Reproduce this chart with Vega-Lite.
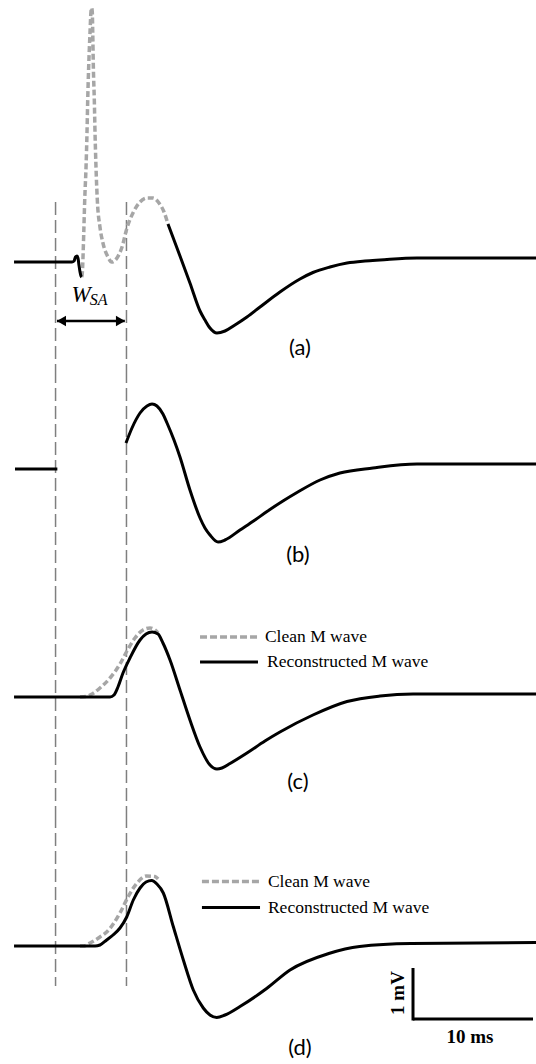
{
  "$schema": "https://vega.github.io/schema/vega-lite/v6.json",
  "padding": 0,
  "spacing": 0,
  "bounds": "flush",
  "background": "white",
  "config": {"view": {"stroke": null}},
  "vconcat": [
    {
      "width": 536,
      "height": 370,
      "data": {"values": [
        {"t": 1.17, "v": 0, "s": "pre"}, {"t": 6.0, "v": 0, "s": "pre"}, {"t": 6.17, "v": 0.02, "s": "pre"}, {"t": 6.29, "v": 0.1, "s": "pre"}, {"t": 6.42, "v": 0.12, "s": "pre"}, {"t": 6.5, "v": 0.08, "s": "pre"}, {"t": 6.58, "v": -0.06, "s": "pre"}, {"t": 6.67, "v": -0.2, "s": "pre"}, {"t": 6.75, "v": -0.28, "s": "pre"}, {"t": 6.81, "v": -0.3, "s": "pre"},
        {"t": 6.81, "v": -0.3, "s": "clean"}, {"t": 6.86, "v": -0.22, "s": "clean"}, {"t": 6.98, "v": 0.58, "s": "clean"}, {"t": 7.06, "v": 1.24, "s": "clean"}, {"t": 7.17, "v": 1.9, "s": "clean"}, {"t": 7.25, "v": 2.58, "s": "clean"}, {"t": 7.31, "v": 3.24, "s": "clean"}, {"t": 7.39, "v": 3.9, "s": "clean"}, {"t": 7.5, "v": 4.58, "s": "clean"}, {"t": 7.58, "v": 5.0, "s": "clean"}, {"t": 7.64, "v": 5.08, "s": "clean"}, {"t": 7.69, "v": 5.0, "s": "clean"}, {"t": 7.73, "v": 4.58, "s": "clean"}, {"t": 7.78, "v": 3.9, "s": "clean"}, {"t": 7.86, "v": 3.24, "s": "clean"}, {"t": 7.92, "v": 2.58, "s": "clean"}, {"t": 8.0, "v": 1.9, "s": "clean"}, {"t": 8.11, "v": 1.24, "s": "clean"}, {"t": 8.33, "v": 0.7, "s": "clean"}, {"t": 8.58, "v": 0.38, "s": "clean"}, {"t": 9.0, "v": 0.1, "s": "clean"}, {"t": 9.31, "v": 0, "s": "clean"}, {"t": 9.75, "v": 0.08, "s": "clean"}, {"t": 10.17, "v": 0.3, "s": "clean"}, {"t": 10.58, "v": 0.68, "s": "clean"}, {"t": 11.08, "v": 0.98, "s": "clean"}, {"t": 11.67, "v": 1.2, "s": "clean"}, {"t": 12.25, "v": 1.28, "s": "clean"}, {"t": 12.75, "v": 1.28, "s": "clean"}, {"t": 13.25, "v": 1.18, "s": "clean"}, {"t": 13.67, "v": 1.0, "s": "clean"}, {"t": 14.0, "v": 0.76, "s": "clean"},
        {"t": 14.0, "v": 0.76, "s": "main"}, {"t": 14.5, "v": 0.44, "s": "main"}, {"t": 15.0, "v": 0.12, "s": "main"}, {"t": 15.83, "v": -0.42, "s": "main"}, {"t": 16.67, "v": -0.98, "s": "main"}, {"t": 17.08, "v": -1.16, "s": "main"}, {"t": 17.5, "v": -1.32, "s": "main"}, {"t": 18.08, "v": -1.42, "s": "main"}, {"t": 18.75, "v": -1.38, "s": "main"}, {"t": 19.58, "v": -1.26, "s": "main"}, {"t": 20.58, "v": -1.1, "s": "main"}, {"t": 21.67, "v": -0.9, "s": "main"}, {"t": 23.33, "v": -0.6, "s": "main"}, {"t": 25.0, "v": -0.34, "s": "main"}, {"t": 26.08, "v": -0.21, "s": "main"}, {"t": 27.5, "v": -0.1, "s": "main"}, {"t": 28.92, "v": -0.02, "s": "main"}, {"t": 30.42, "v": 0.02, "s": "main"}, {"t": 31.67, "v": 0.04, "s": "main"}, {"t": 34.75, "v": 0.08, "s": "main"}, {"t": 44.67, "v": 0.08, "s": "main"}
      ]},
      "layer": [
        {
          "data": {"values": [{"t": 4.63, "v": 1.2, "v2": -2.16}, {"t": 10.54, "v": 1.2, "v2": -2.16}]},
          "mark": {"type": "rule", "color": "#7f7f7f", "strokeWidth": 1.5, "strokeDash": [13, 5]},
          "encoding": {
            "x": {"field": "t", "type": "quantitative", "scale": {"domain": [0, 44.67], "nice": false, "zero": false}, "axis": null},
            "y": {"field": "v", "type": "quantitative", "scale": {"domain": [-2.16, 5.24], "nice": false, "zero": false}, "axis": null},
            "y2": {"field": "v2"}
          }
        },
        {
          "transform": [{"filter": "datum.s == 'clean'"}],
          "mark": {"type": "line", "color": "#a6a6a6", "strokeWidth": 3.5, "strokeDash": [6, 3], "interpolate": "monotone"},
          "encoding": {
            "x": {"field": "t", "type": "quantitative", "axis": null},
            "y": {"field": "v", "type": "quantitative", "axis": null}
          }
        },
        {
          "transform": [{"filter": "datum.s != 'clean'"}],
          "mark": {"type": "line", "color": "black", "strokeWidth": 3, "strokeJoin": "round", "interpolate": "monotone"},
          "encoding": {
            "x": {"field": "t", "type": "quantitative", "axis": null},
            "y": {"field": "v", "type": "quantitative", "axis": null},
            "detail": {"field": "s"}
          }
        },
        {
          "data": {"values": [{"t": 4.75, "t2": 10.4, "v": -1.18}]},
          "mark": {"type": "rule", "color": "black", "strokeWidth": 2.5},
          "encoding": {
            "x": {"field": "t", "type": "quantitative", "axis": null},
            "x2": {"field": "t2"},
            "y": {"field": "v", "type": "quantitative", "axis": null}
          }
        },
        {
          "data": {"values": [{"t": 5.12, "v": -1.18, "shape": "triangle-left"}, {"t": 10.04, "v": -1.18, "shape": "triangle-right"}]},
          "mark": {"type": "point", "filled": true, "size": 110, "color": "black", "opacity": 1},
          "encoding": {
            "x": {"field": "t", "type": "quantitative", "axis": null},
            "y": {"field": "v", "type": "quantitative", "axis": null},
            "shape": {"field": "shape", "type": "nominal", "scale": null}
          }
        },
        {
          "data": {"values": [{"t": 6.75, "v": -0.65, "label": "W"}]},
          "mark": {"type": "text", "font": "Liberation Serif", "fontStyle": "italic", "fontSize": 23, "align": "center", "baseline": "middle", "color": "black"},
          "encoding": {
            "x": {"field": "t", "type": "quantitative", "axis": null},
            "y": {"field": "v", "type": "quantitative", "axis": null},
            "text": {"field": "label"}
          }
        },
        {
          "data": {"values": [{"t": 8.23, "v": -0.76, "label": "SA"}]},
          "mark": {"type": "text", "font": "Liberation Serif", "fontStyle": "italic", "fontSize": 16, "align": "center", "baseline": "middle", "color": "black"},
          "encoding": {
            "x": {"field": "t", "type": "quantitative", "axis": null},
            "y": {"field": "v", "type": "quantitative", "axis": null},
            "text": {"field": "label"}
          }
        },
        {
          "data": {"values": [{"t": 25.0, "v": -1.72, "label": "(a)"}]},
          "mark": {"type": "text", "font": "Lato", "fontSize": 22, "align": "center", "baseline": "middle", "color": "black"},
          "encoding": {
            "x": {"field": "t", "type": "quantitative", "axis": null},
            "y": {"field": "v", "type": "quantitative", "axis": null},
            "text": {"field": "label"}
          }
        }
      ]
    },
    {
      "width": 536,
      "height": 220,
      "data": {"values": [
        {"t": 1.25, "v": 0, "s": "pre"}, {"t": 4.78, "v": 0, "s": "pre"},
        {"t": 10.5, "v": 0.52, "s": "main"}, {"t": 11.0, "v": 0.82, "s": "main"}, {"t": 11.67, "v": 1.12, "s": "main"}, {"t": 12.25, "v": 1.26, "s": "main"}, {"t": 12.67, "v": 1.3, "s": "main"}, {"t": 13.08, "v": 1.26, "s": "main"}, {"t": 13.58, "v": 1.1, "s": "main"}, {"t": 13.92, "v": 0.92, "s": "main"}, {"t": 14.5, "v": 0.58, "s": "main"}, {"t": 15.0, "v": 0.24, "s": "main"}, {"t": 15.83, "v": -0.42, "s": "main"}, {"t": 16.67, "v": -0.98, "s": "main"}, {"t": 17.08, "v": -1.18, "s": "main"}, {"t": 17.5, "v": -1.32, "s": "main"}, {"t": 18.17, "v": -1.46, "s": "main"}, {"t": 18.75, "v": -1.42, "s": "main"}, {"t": 20.0, "v": -1.22, "s": "main"}, {"t": 21.25, "v": -1.02, "s": "main"}, {"t": 22.25, "v": -0.85, "s": "main"}, {"t": 23.58, "v": -0.64, "s": "main"}, {"t": 24.75, "v": -0.47, "s": "main"}, {"t": 26.67, "v": -0.22, "s": "main"}, {"t": 28.33, "v": -0.08, "s": "main"}, {"t": 31.08, "v": 0.02, "s": "main"}, {"t": 34.75, "v": 0.1, "s": "main"}, {"t": 44.67, "v": 0.1, "s": "main"}
      ]},
      "layer": [
        {
          "data": {"values": [{"t": 4.63}, {"t": 10.54}]},
          "mark": {"type": "rule", "color": "#7f7f7f", "strokeWidth": 1.5, "strokeDash": [13, 5]},
          "encoding": {
            "x": {"field": "t", "type": "quantitative", "scale": {"domain": [0, 44.67], "nice": false, "zero": false}, "axis": null}
          }
        },
        {
          "mark": {"type": "line", "color": "black", "strokeWidth": 3, "strokeJoin": "round", "interpolate": "monotone"},
          "encoding": {
            "x": {"field": "t", "type": "quantitative", "axis": null},
            "y": {"field": "v", "type": "quantitative", "scale": {"domain": [-2.42, 1.98], "nice": false, "zero": false}, "axis": null},
            "detail": {"field": "s"}
          }
        },
        {
          "data": {"values": [{"t": 24.83, "v": -1.72, "label": "(b)"}]},
          "mark": {"type": "text", "font": "Lato", "fontSize": 22, "align": "center", "baseline": "middle", "color": "black"},
          "encoding": {
            "x": {"field": "t", "type": "quantitative", "axis": null},
            "y": {"field": "v", "type": "quantitative", "axis": null},
            "text": {"field": "label"}
          }
        }
      ]
    },
    {
      "width": 536,
      "height": 225,
      "data": {"values": [
        {"t": 6.67, "v": 0, "s": "clean"}, {"t": 7.33, "v": 0.02, "s": "clean"}, {"t": 7.67, "v": 0.06, "s": "clean"}, {"t": 8.33, "v": 0.18, "s": "clean"}, {"t": 9.17, "v": 0.38, "s": "clean"}, {"t": 10.0, "v": 0.66, "s": "clean"}, {"t": 10.58, "v": 0.92, "s": "clean"}, {"t": 11.25, "v": 1.18, "s": "clean"}, {"t": 11.92, "v": 1.34, "s": "clean"}, {"t": 12.5, "v": 1.38, "s": "clean"}, {"t": 12.92, "v": 1.34, "s": "clean"}, {"t": 13.17, "v": 1.28, "s": "clean"},
        {"t": 1.17, "v": 0, "s": "rec"}, {"t": 9.17, "v": 0, "s": "rec"}, {"t": 9.5, "v": 0.04, "s": "rec"}, {"t": 9.83, "v": 0.2, "s": "rec"}, {"t": 10.25, "v": 0.48, "s": "rec"}, {"t": 10.83, "v": 0.78, "s": "rec"}, {"t": 11.67, "v": 1.14, "s": "rec"}, {"t": 12.17, "v": 1.26, "s": "rec"}, {"t": 12.67, "v": 1.3, "s": "rec"}, {"t": 13.17, "v": 1.26, "s": "rec"}, {"t": 13.58, "v": 1.08, "s": "rec"}, {"t": 14.17, "v": 0.74, "s": "rec"}, {"t": 15.0, "v": 0.14, "s": "rec"}, {"t": 15.83, "v": -0.46, "s": "rec"}, {"t": 16.67, "v": -1.0, "s": "rec"}, {"t": 17.5, "v": -1.36, "s": "rec"}, {"t": 18.08, "v": -1.44, "s": "rec"}, {"t": 18.5, "v": -1.42, "s": "rec"}, {"t": 19.17, "v": -1.33, "s": "rec"}, {"t": 20.58, "v": -1.12, "s": "rec"}, {"t": 22.08, "v": -0.88, "s": "rec"}, {"t": 23.33, "v": -0.7, "s": "rec"}, {"t": 26.08, "v": -0.36, "s": "rec"}, {"t": 28.92, "v": -0.09, "s": "rec"}, {"t": 31.67, "v": 0.02, "s": "rec"}, {"t": 34.42, "v": 0.06, "s": "rec"}, {"t": 44.67, "v": 0.06, "s": "rec"}
      ]},
      "layer": [
        {
          "data": {"values": [{"t": 4.63}, {"t": 10.54}]},
          "mark": {"type": "rule", "color": "#7f7f7f", "strokeWidth": 1.5, "strokeDash": [13, 5]},
          "encoding": {
            "x": {"field": "t", "type": "quantitative", "scale": {"domain": [0, 44.67], "nice": false, "zero": false}, "axis": null}
          }
        },
        {
          "transform": [{"filter": "datum.s == 'clean'"}],
          "mark": {"type": "line", "color": "#a6a6a6", "strokeWidth": 3.5, "strokeDash": [6, 3], "interpolate": "monotone"},
          "encoding": {
            "x": {"field": "t", "type": "quantitative", "axis": null},
            "y": {"field": "v", "type": "quantitative", "scale": {"domain": [-2.36, 2.14], "nice": false, "zero": false}, "axis": null}
          }
        },
        {
          "transform": [{"filter": "datum.s == 'rec'"}],
          "mark": {"type": "line", "color": "black", "strokeWidth": 3, "strokeJoin": "round", "interpolate": "monotone"},
          "encoding": {
            "x": {"field": "t", "type": "quantitative", "axis": null},
            "y": {"field": "v", "type": "quantitative", "axis": null}
          }
        },
        {
          "data": {"values": [{"t": 16.67, "t2": 21.5, "v": 1.2}]},
          "mark": {"type": "rule", "color": "#a6a6a6", "strokeWidth": 3.5, "strokeDash": [7, 3]},
          "encoding": {
            "x": {"field": "t", "type": "quantitative", "axis": null},
            "x2": {"field": "t2"},
            "y": {"field": "v", "type": "quantitative", "axis": null}
          }
        },
        {
          "data": {"values": [{"t": 16.67, "t2": 21.5, "v": 0.7}]},
          "mark": {"type": "rule", "color": "black", "strokeWidth": 3},
          "encoding": {
            "x": {"field": "t", "type": "quantitative", "axis": null},
            "x2": {"field": "t2"},
            "y": {"field": "v", "type": "quantitative", "axis": null}
          }
        },
        {
          "data": {"values": [{"t": 22.08, "v": 1.2, "label": "Clean M wave"}, {"t": 22.25, "v": 0.7, "label": "Reconstructed M wave"}]},
          "mark": {"type": "text", "font": "Liberation Serif", "fontSize": 17.5, "align": "left", "baseline": "middle", "color": "black"},
          "encoding": {
            "x": {"field": "t", "type": "quantitative", "axis": null},
            "y": {"field": "v", "type": "quantitative", "axis": null},
            "text": {"field": "label"}
          }
        },
        {
          "data": {"values": [{"t": 24.83, "v": -1.7, "label": "(c)"}]},
          "mark": {"type": "text", "font": "Lato", "fontSize": 22, "align": "center", "baseline": "middle", "color": "black"},
          "encoding": {
            "x": {"field": "t", "type": "quantitative", "axis": null},
            "y": {"field": "v", "type": "quantitative", "axis": null},
            "text": {"field": "label"}
          }
        }
      ]
    },
    {
      "width": 536,
      "height": 249,
      "data": {"values": [
        {"t": 6.67, "v": 0, "s": "clean"}, {"t": 6.94, "v": 0, "s": "clean"}, {"t": 7.5, "v": 0.06, "s": "clean"}, {"t": 8.33, "v": 0.18, "s": "clean"}, {"t": 8.89, "v": 0.28, "s": "clean"}, {"t": 10.0, "v": 0.66, "s": "clean"}, {"t": 10.69, "v": 0.99, "s": "clean"}, {"t": 11.39, "v": 1.25, "s": "clean"}, {"t": 12.22, "v": 1.4, "s": "clean"}, {"t": 12.92, "v": 1.39, "s": "clean"}, {"t": 13.17, "v": 1.34, "s": "clean"},
        {"t": 1.17, "v": 0, "s": "rec"}, {"t": 7.92, "v": 0, "s": "rec"}, {"t": 8.33, "v": 0.02, "s": "rec"}, {"t": 8.89, "v": 0.12, "s": "rec"}, {"t": 9.42, "v": 0.22, "s": "rec"}, {"t": 10.0, "v": 0.36, "s": "rec"}, {"t": 10.56, "v": 0.58, "s": "rec"}, {"t": 11.11, "v": 0.92, "s": "rec"}, {"t": 11.67, "v": 1.16, "s": "rec"}, {"t": 12.17, "v": 1.28, "s": "rec"}, {"t": 12.64, "v": 1.31, "s": "rec"}, {"t": 13.08, "v": 1.24, "s": "rec"}, {"t": 13.61, "v": 1.06, "s": "rec"}, {"t": 14.44, "v": 0.39, "s": "rec"}, {"t": 15.28, "v": -0.28, "s": "rec"}, {"t": 16.11, "v": -0.88, "s": "rec"}, {"t": 16.94, "v": -1.24, "s": "rec"}, {"t": 17.5, "v": -1.38, "s": "rec"}, {"t": 18.06, "v": -1.43, "s": "rec"}, {"t": 18.75, "v": -1.38, "s": "rec"}, {"t": 20.0, "v": -1.21, "s": "rec"}, {"t": 22.22, "v": -0.85, "s": "rec"}, {"t": 24.17, "v": -0.48, "s": "rec"}, {"t": 27.4, "v": -0.15, "s": "rec"}, {"t": 29.97, "v": -0.01, "s": "rec"}, {"t": 34.25, "v": 0.05, "s": "rec"}, {"t": 44.67, "v": 0.07, "s": "rec"}
      ]},
      "layer": [
        {
          "data": {"values": [{"t": 4.63, "v": 2.62, "v2": -0.8}, {"t": 10.54, "v": 2.62, "v2": -0.8}]},
          "mark": {"type": "rule", "color": "#7f7f7f", "strokeWidth": 1.5, "strokeDash": [13, 5]},
          "encoding": {
            "x": {"field": "t", "type": "quantitative", "scale": {"domain": [0, 44.67], "nice": false, "zero": false}, "axis": null},
            "y": {"field": "v", "type": "quantitative", "scale": {"domain": [-2.36, 2.62], "nice": false, "zero": false}, "axis": null},
            "y2": {"field": "v2"}
          }
        },
        {
          "transform": [{"filter": "datum.s == 'clean'"}],
          "mark": {"type": "line", "color": "#a6a6a6", "strokeWidth": 3.5, "strokeDash": [6, 3], "interpolate": "monotone"},
          "encoding": {
            "x": {"field": "t", "type": "quantitative", "axis": null},
            "y": {"field": "v", "type": "quantitative", "axis": null}
          }
        },
        {
          "transform": [{"filter": "datum.s == 'rec'"}],
          "mark": {"type": "line", "color": "black", "strokeWidth": 3, "strokeJoin": "round", "interpolate": "monotone"},
          "encoding": {
            "x": {"field": "t", "type": "quantitative", "axis": null},
            "y": {"field": "v", "type": "quantitative", "axis": null}
          }
        },
        {
          "data": {"values": [{"t": 16.83, "t2": 21.67, "v": 1.29}]},
          "mark": {"type": "rule", "color": "#a6a6a6", "strokeWidth": 3.5, "strokeDash": [7, 3]},
          "encoding": {
            "x": {"field": "t", "type": "quantitative", "axis": null},
            "x2": {"field": "t2"},
            "y": {"field": "v", "type": "quantitative", "axis": null}
          }
        },
        {
          "data": {"values": [{"t": 16.83, "t2": 21.67, "v": 0.77}, {"t": 34.42, "t2": 44.42, "v": -1.46}]},
          "mark": {"type": "rule", "color": "black", "strokeWidth": 3},
          "encoding": {
            "x": {"field": "t", "type": "quantitative", "axis": null},
            "x2": {"field": "t2"},
            "y": {"field": "v", "type": "quantitative", "axis": null}
          }
        },
        {
          "data": {"values": [{"t": 34.42, "v": -0.44, "v2": -1.49}]},
          "mark": {"type": "rule", "color": "black", "strokeWidth": 3},
          "encoding": {
            "x": {"field": "t", "type": "quantitative", "axis": null},
            "y": {"field": "v", "type": "quantitative", "axis": null},
            "y2": {"field": "v2"}
          }
        },
        {
          "data": {"values": [{"t": 22.33, "v": 1.29, "label": "Clean M wave"}, {"t": 22.33, "v": 0.77, "label": "Reconstructed M wave"}]},
          "mark": {"type": "text", "font": "Liberation Serif", "fontSize": 17.5, "align": "left", "baseline": "middle", "color": "black"},
          "encoding": {
            "x": {"field": "t", "type": "quantitative", "axis": null},
            "y": {"field": "v", "type": "quantitative", "axis": null},
            "text": {"field": "label"}
          }
        },
        {
          "data": {"values": [{"t": 39.17, "v": -1.82, "label": "10 ms"}]},
          "mark": {"type": "text", "font": "Liberation Serif", "fontWeight": "bold", "fontSize": 19, "align": "center", "baseline": "middle", "color": "black"},
          "encoding": {
            "x": {"field": "t", "type": "quantitative", "axis": null},
            "y": {"field": "v", "type": "quantitative", "axis": null},
            "text": {"field": "label"}
          }
        },
        {
          "data": {"values": [{"t": 33.17, "v": -0.94, "label": "1 mV"}]},
          "mark": {"type": "text", "font": "Liberation Serif", "fontWeight": "bold", "fontSize": 19, "align": "center", "baseline": "middle", "angle": 270, "color": "black"},
          "encoding": {
            "x": {"field": "t", "type": "quantitative", "axis": null},
            "y": {"field": "v", "type": "quantitative", "axis": null},
            "text": {"field": "label"}
          }
        },
        {
          "data": {"values": [{"t": 25.0, "v": -2.04, "label": "(d)"}]},
          "mark": {"type": "text", "font": "Lato", "fontSize": 22, "align": "center", "baseline": "middle", "color": "black"},
          "encoding": {
            "x": {"field": "t", "type": "quantitative", "axis": null},
            "y": {"field": "v", "type": "quantitative", "axis": null},
            "text": {"field": "label"}
          }
        }
      ]
    }
  ]
}
